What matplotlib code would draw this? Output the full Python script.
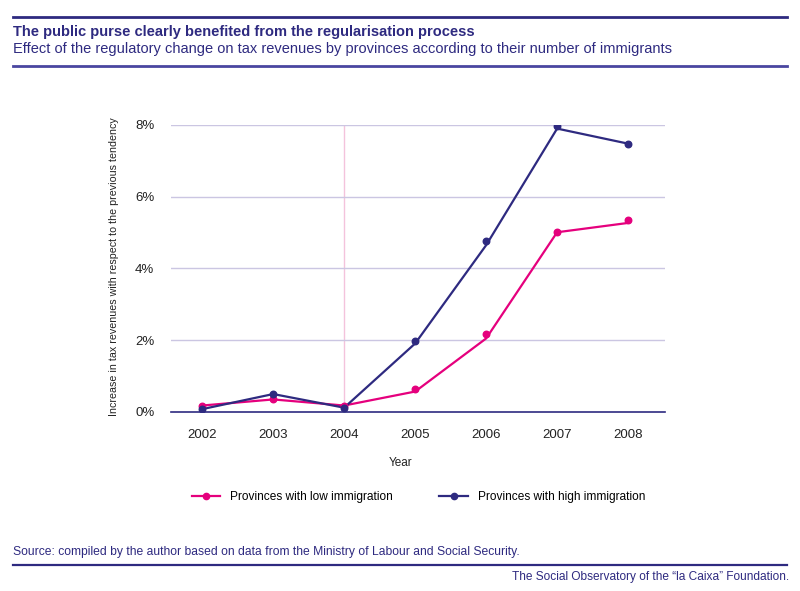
import matplotlib.pyplot as plt
from matplotlib.lines import Line2D

years = [2002, 2003, 2004, 2005, 2006, 2007, 2008]
# marker values (%)
low_points = [0.18, 0.35, 0.18, 0.65, 2.17, 5.01, 5.35]
high_points = [0.08, 0.50, 0.12, 1.99, 4.76, 7.97, 7.48]
# line vertices (%) - the original draws the line slightly apart from the dots
low_line = [0.18, 0.35, 0.18, 0.57, 2.05, 5.01, 5.27]
high_line = [0.08, 0.50, 0.12, 1.91, 4.65, 7.90, 7.48]
yticks = [0, 2, 4, 6, 8]

navy = '#2e2a80'
pink = '#e5007d'
grid_c = '#cbc6e2'

plt.rcParams['font.family'] = ['Liberation Sans', 'DejaVu Sans']

fig = plt.figure(figsize=(8, 5.91), dpi=100)
ax = fig.add_axes([0.21375, 0.3029, 0.6175, 0.4856])

ax.axvline(2004, color='#f4c3dc', lw=1, zorder=1)
for t in yticks[1:]:
    ax.axhline(t, color=grid_c, lw=1, zorder=1)

ax.plot(years, low_line, color=pink, lw=1.6, zorder=3)
ax.plot(years, high_line, color=navy, lw=1.6, zorder=3)
ax.scatter(years, low_points, color=pink, s=22, zorder=4)
ax.scatter(years, high_points, color=navy, s=22, zorder=4)

ax.set_xlim(2001.56, 2008.52)
ax.set_ylim(0, 8)
ax.set_xticks(years)
ax.set_yticks(yticks)
ax.set_yticklabels([f'{t}%' for t in yticks])
ax.tick_params(length=0, labelsize=9.5, colors='#222222', pad=12)
ax.tick_params(axis='y', pad=12)
for s in ['top', 'right', 'left']:
    ax.spines[s].set_visible(False)
ax.spines['bottom'].set_color(navy)
ax.spines['bottom'].set_linewidth(1.2)
ax.set_xlabel('Year', fontsize=8.5, color='#222222')
ax.xaxis.set_label_coords(0.465, -0.157)
ax.set_ylabel('Increase in tax revenues with respect to the previous tendency',
              fontsize=7.7, color='#222222')
ax.yaxis.set_label_coords(-0.106, 0.505)

handles = [Line2D([0], [0], color=pink, lw=1.6, marker='o', markersize=4.5),
           Line2D([0], [0], color=navy, lw=1.6, marker='o', markersize=4.5)]
fig.legend(handles, ['Provinces with low immigration', 'Provinces with high immigration'],
           loc='center', bbox_to_anchor=(0.523, 1 - 497 / 591), ncol=2, frameon=False,
           fontsize=8.6, columnspacing=3.9, handlelength=2.4, handletextpad=0.8)

# header and footer
fig.add_artist(Line2D([13 / 800, 787 / 800], [1 - 17 / 591] * 2, color=navy, lw=2))
fig.add_artist(Line2D([13 / 800, 787 / 800], [1 - 66 / 591] * 2, color='#4a46a0', lw=2))
fig.add_artist(Line2D([13 / 800, 787 / 800], [1 - 565 / 591] * 2, color=navy, lw=1.6))
fig.text(13 / 800, 1 - 32 / 591, 'The public purse clearly benefited from the regularisation process',
         fontsize=10.5, fontweight='bold', color=navy, va='center')
fig.text(13 / 800, 1 - 49 / 591,
         'Effect of the regulatory change on tax revenues by provinces according to their number of immigrants',
         fontsize=10.5, color=navy, va='center')
fig.text(13 / 800, 1 - 552 / 591,
         'Source: compiled by the author based on data from the Ministry of Labour and Social Security.',
         fontsize=8.7, color=navy, va='center')
fig.text(789 / 800, 1 - 577 / 591, 'The Social Observatory of the \u201cla Caixa\u201d Foundation.',
         fontsize=8.6, color=navy, va='center', ha='right')

fig.savefig('out.png', dpi=100)
